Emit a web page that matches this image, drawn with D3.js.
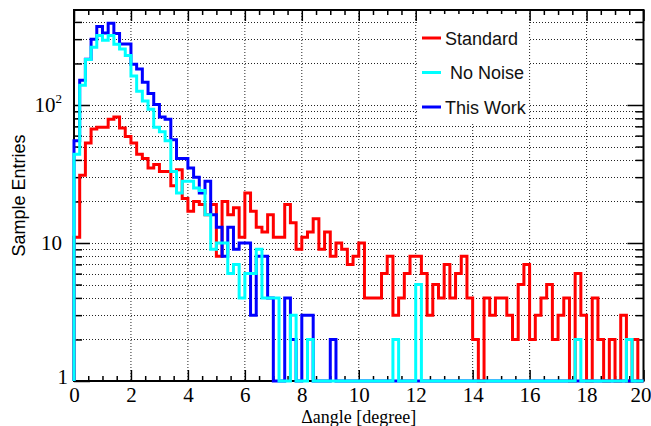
<!DOCTYPE html>
<html>
<head>
<meta charset="utf-8">
<script src="https://d3js.org/d3.v7.min.js"></script>
<style>
body { margin: 0; background: #fff; }
.serif { font-family: "Liberation Serif", "Tinos", "Times New Roman", "DejaVu Serif", serif; }
.sans { font-family: "Liberation Sans", Arial, Helvetica, sans-serif; }
</style>
</head>
<body>
<div id="main"></div>
<script>
var ctx = {
    w: 651,
    h: 426,
    left: 74,
    right: 643.5,
    top: 10,
    bottom: 381,
    yMax: 488,
};

// 100 bins of 0.2 degree on [0, 20]
var xRange = [0, 20];
var nBins = 100;

var standard = [
    11, 31, 53, 67, 69, 69, 79, 82, 68, 59,
    53, 44, 41, 35, 37, 33, 33, 26, 34, 21,
    17, 20, 19, 16, 19, 8, 20, 16, 18, 11,
    23, 17, 13, 12, 16, 11, 11, 19, 14, 9,
    11, 12, 15, 9, 12, 8, 10, 9, 7, 8,
    10, 4, 4, 4, 6, 8, 3, 4, 6, 8,
    8, 6, 3, 5, 4, 7, 4, 6, 8, 4,
    2, 0, 4, 3, 4, 4, 3, 2, 5, 7,
    2, 3, 4, 5, 2, 3, 4, 0, 6, 3,
    0, 4, 2, 0, 2, 0, 3, 0, 2, 0
];
var noNoise = [
    44, 139, 214, 262, 319, 295, 319, 275, 255, 228,
    162, 126, 107, 93, 69, 64, 55, 33, 23, 28,
    28, 25, 24, 16, 9, 10, 10, 6, 7, 4,
    6, 6, 9, 4, 4, 4, 0, 0, 3, 0,
    0, 2, 0, 0, 0, 0, 0, 0, 0, 0,
    0, 0, 0, 0, 0, 0, 2, 0, 0, 0,
    5, 0, 0, 0, 0, 0, 0, 0, 0, 0,
    0, 0, 0, 0, 0, 0, 0, 0, 0, 0,
    0, 0, 0, 0, 0, 0, 0, 0, 2, 0,
    0, 0, 0, 0, 0, 0, 0, 2, 0, 0
];
var thisWork = [
    55, 151, 215, 300, 370, 332, 392, 330, 277, 277,
    197, 182, 146, 121, 101, 82, 79, 56, 41, 41,
    35, 30, 23, 28, 16, 13, 8, 13, 9, 10,
    10, 3, 8, 8, 4, 0, 0, 4, 2, 0,
    3, 3, 0, 0, 0, 2, 0, 0, 0, 0,
    0, 0, 0, 0, 0, 0, 0, 0, 0, 0,
    0, 0, 0, 0, 0, 0, 0, 0, 0, 0,
    0, 0, 0, 0, 0, 0, 0, 0, 0, 0,
    0, 0, 0, 0, 0, 0, 0, 0, 0, 0,
    0, 0, 0, 0, 0, 0, 0, 0, 0, 0
];

var seriesNames = ["Standard", "No Noise", "This Work"];
var seriesColors = ["#ff0000", "#00ffff", "#0000ff"];

var xMajorTicks = [0, 2, 4, 6, 8, 10, 12, 14, 16, 18, 20];
var xTickLabels = ["0", "2", "4", "6", "8", "10", "12", "14", "16", "18", "20"];
var yMajorTicks = [1, 10, 100];
var yTickBase = ["1", "10", "10"];
var yTickExp = ["", "", "2"];
var yMinorTicks = [2, 3, 4, 5, 6, 7, 8, 9, 20, 30, 40, 50, 60, 70, 80, 90, 200, 300, 400];

var histPoints = function(values){
    var binW = (xRange[1] - xRange[0]) / nBins;
    var pts = [[xRange[0], 1]];
    values.forEach(function(v, i){
        // empty bins sit on the bottom of the log axis
        var y = Math.max(v, 1);
        pts.push([xRange[0] + i * binW, y]);
        pts.push([xRange[0] + (i + 1) * binW, y]);
    });
    pts.push([xRange[1], 1]);
    return pts;
};

var styleAxis = function(g){
    g.select(".domain").remove();
    g.attr("font-family", null).attr("font-size", null);
    g.selectAll(".tick line").attr("stroke", "#000").attr("stroke-width", 1.5);
};

var drawGrid = function(svgEl){
    var grid = svgEl.append("g").attr("id", "grid");
    grid.selectAll("line.vx").data(xMajorTicks.slice(1, -1)).enter().append("line")
        .attr("x1", d => ctx.x(d)).attr("x2", d => ctx.x(d))
        .attr("y1", ctx.top).attr("y2", ctx.bottom);
    grid.selectAll("line.hy").data(yMajorTicks.slice(1).concat(yMinorTicks)).enter().append("line")
        .attr("x1", ctx.left).attr("x2", ctx.right)
        .attr("y1", d => Math.round(ctx.y(d)) + 0.5).attr("y2", d => Math.round(ctx.y(d)) + 0.5);
    grid.selectAll("line")
        .attr("stroke", "#222")
        .attr("stroke-width", 1)
        .attr("stroke-dasharray", "1,2");
};

var drawAxes = function(svgEl){
    var x = ctx.x, y = ctx.y;
    var xMinor = d3.range(0, 20.001, 0.5).filter(d => d % 2 != 0);

    // bottom and top
    var xb = svgEl.append("g").attr("transform", "translate(0," + ctx.bottom + ")")
        .call(d3.axisBottom(x).tickValues(xMajorTicks).tickSize(-11).tickPadding(6)
              .tickFormat((d, i) => xTickLabels[i]))
        .call(styleAxis);
    xb.selectAll("text").attr("class", "serif").style("font-size", "21px").attr("fill", "#000");
    // last label hugs the right border
    xb.selectAll("text").filter((d, i) => i == xMajorTicks.length - 1)
        .attr("text-anchor", "end").attr("x", ctx.w - ctx.right);
    svgEl.append("g").attr("transform", "translate(0," + ctx.bottom + ")")
        .call(d3.axisBottom(x).tickValues(xMinor).tickSize(-5).tickFormat(""))
        .call(styleAxis);
    svgEl.append("g").attr("transform", "translate(0," + ctx.top + ")")
        .call(d3.axisTop(x).tickValues(xMajorTicks).tickSize(-11).tickFormat(""))
        .call(styleAxis);
    svgEl.append("g").attr("transform", "translate(0," + ctx.top + ")")
        .call(d3.axisTop(x).tickValues(xMinor).tickSize(-5).tickFormat(""))
        .call(styleAxis);

    // left and right
    svgEl.append("g").attr("transform", "translate(" + ctx.left + ",0)")
        .call(d3.axisLeft(y).tickValues(yMajorTicks).tickSize(-16).tickFormat(""))
        .call(styleAxis);
    svgEl.append("g").attr("transform", "translate(" + ctx.left + ",0)")
        .call(d3.axisLeft(y).tickValues(yMinorTicks).tickSize(-8).tickFormat(""))
        .call(styleAxis);
    svgEl.append("g").attr("transform", "translate(" + ctx.right + ",0)")
        .call(d3.axisRight(y).tickValues(yMajorTicks).tickSize(-16).tickFormat(""))
        .call(styleAxis);
    svgEl.append("g").attr("transform", "translate(" + ctx.right + ",0)")
        .call(d3.axisRight(y).tickValues(yMinorTicks).tickSize(-8).tickFormat(""))
        .call(styleAxis);

    // y labels: 1, 10, 10^2
    var yl = svgEl.append("g").attr("class", "serif").style("font-size", "21px");
    yMajorTicks.forEach(function(v, i){
        var t = yl.append("text")
            .attr("text-anchor", "end")
            .attr("x", i == 0 ? 68 : 62)
            .attr("y", y(v) + (i == 0 ? 3 : 7));
        t.append("tspan").text(yTickBase[i]);
        if (yTickExp[i] != ""){
            t.append("tspan").style("font-size", "13px").attr("dy", -9).text(yTickExp[i]);
        }
    });

    // frame
    svgEl.append("rect")
        .attr("x", ctx.left).attr("y", ctx.top)
        .attr("width", ctx.right - ctx.left).attr("height", ctx.bottom - ctx.top)
        .attr("fill", "none").attr("stroke", "#000").attr("stroke-width", 2);

    // titles
    svgEl.append("text")
        .attr("class", "serif")
        .attr("x", (ctx.left + ctx.right) / 2).attr("y", 423)
        .attr("text-anchor", "middle")
        .style("font-size", "18px")
        .text("\u0394angle [degree]");
    svgEl.append("text")
        .attr("class", "sans")
        .attr("transform", "translate(25," + ((ctx.top + ctx.bottom) / 2) + ") rotate(-90)")
        .attr("text-anchor", "middle")
        .style("font-size", "18px")
        .text("Sample Entries");
};

var drawHists = function(svgEl){
    var line = d3.line().x(d => ctx.x(d[0])).y(d => ctx.y(d[1]));
    var series = [standard, noNoise, thisWork];
    // drawing order: Standard, This Work, No Noise
    [0, 2, 1].forEach(function(k){
        svgEl.append("path")
            .attr("d", line(histPoints(series[k])))
            .attr("fill", "none")
            .attr("stroke", seriesColors[k])
            .attr("stroke-width", 3)
            .attr("stroke-linejoin", "miter");
    });
};

var drawLegend = function(svgEl){
    var lg = svgEl.append("g");
    lg.append("rect").attr("x", 418).attr("y", 14).attr("width", 110).attr("height", 108)
        .attr("fill", "#fff");
    seriesNames.forEach(function(name, i){
        var cy = 38 + i * 34.5;
        lg.append("line")
            .attr("x1", 422).attr("x2", 441)
            .attr("y1", cy).attr("y2", cy)
            .attr("stroke", seriesColors[i]).attr("stroke-width", 3);
        lg.append("text")
            .attr("class", "sans")
            .attr("x", i == 1 ? 450 : 445).attr("y", cy + 6.5)
            .style("font-size", "18px")
            .attr("fill", "#111")
            .text(name);
    });
};

var createViz = function(){
    var svgEl = d3.select("#main").append("svg")
        .attr("width", ctx.w).attr("height", ctx.h);
    ctx.x = d3.scaleLinear().domain(xRange).range([ctx.left, ctx.right]);
    ctx.y = d3.scaleLog().domain([1, ctx.yMax]).range([ctx.bottom, ctx.top]);
    drawGrid(svgEl);
    drawAxes(svgEl);
    drawHists(svgEl);
    drawLegend(svgEl);
};

createViz();
</script>
</body>
</html>
